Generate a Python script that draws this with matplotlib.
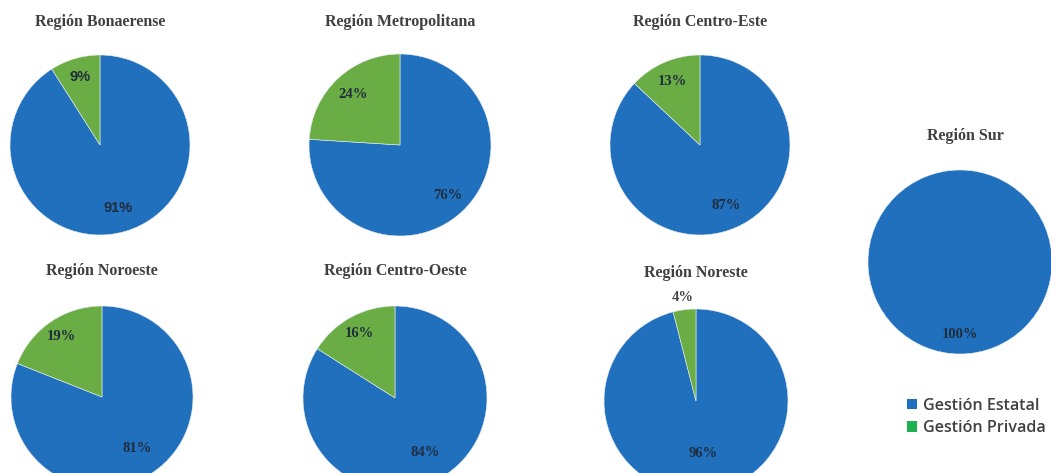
import numpy as np
import matplotlib
matplotlib.use("Agg")
import matplotlib.pyplot as plt
from matplotlib.patches import Patch

# Datos: porcentaje de gestión estatal / privada por región
regiones = ["Región Bonaerense", "Región Metropolitana", "Región Centro-Este",
            "Región Noroeste", "Región Centro-Oeste", "Región Noreste", "Región Sur"]
estatal = [91, 76, 87, 81, 84, 96, 100]
privada = [9, 24, 13, 19, 16, 4, 0]
series = ["Gestión Estatal", "Gestión Privada"]

AZUL = "#2170BE"
VERDE = "#6BAD45"
VERDE_LEYENDA = "#1DB14F"
GRIS = "#404040"

W, H = 1051, 473
# (centro x, centro y desde arriba, radio, x del título, y del título) en píxeles
ubicacion = [(100, 145, 90, 100, 22), (400, 145, 91, 400, 22), (700, 145, 90, 700, 22),
             (102, 397, 91, 102, 271), (395, 398, 92, 395, 271), (696, 401, 92, 696, 273),
             (960, 262, 92, 965, 136)]
# distancia de la etiqueta al centro (fracción del radio): estatal, privada
dist_etiquetas = [(0.73, 0.79), (0.76, 0.76), (0.73, 0.77), (0.68, 0.80),
                  (0.67, 0.80), (0.58, 1.13), (0.79, 0.79)]

fig = plt.figure(figsize=(W / 100, H / 100), dpi=100)
fig.patch.set_facecolor("white")

for i, (nombre, e, p) in enumerate(zip(regiones, estatal, privada)):
    cx, cy, r, tx, ty = ubicacion[i]
    ax = fig.add_axes([(cx - r) / W, 1 - (cy + r) / H, 2 * r / W, 2 * r / H])
    valores = [e, p] if p > 0 else [e]
    colores = [AZUL, VERDE][:len(valores)]
    ax.pie(valores, colors=colores, startangle=90, counterclock=False,
           radius=1, wedgeprops=dict(linewidth=0.4, edgecolor="#e8eef5"))
    ax.set_xlim(-1, 1)
    ax.set_ylim(-1, 1)
    ax.set_aspect("auto")
    ax.axis("off")

    # etiquetas de porcentaje
    inicio = 90.0
    for v, dist in zip(valores, dist_etiquetas[i]):
        medio = np.deg2rad(inicio - v * 3.6 / 2)
        fam = ["Liberation Sans"] if i == 0 else ["Liberation Serif"]
        ax.text(dist * np.cos(medio), dist * np.sin(medio), f"{v}%",
                ha="center", va="center", fontsize=10.5, fontweight="bold",
                family=fam, color="#1F2D3D" if dist < 1 else GRIS, clip_on=False)
        inicio -= v * 3.6

    fig.text(tx / W, 1 - ty / H, nombre, ha="center", va="center",
             fontsize=11.5, fontweight="bold", family="Liberation Serif", color=GRIS)

# leyenda
handles = [Patch(facecolor=AZUL, edgecolor="none"), Patch(facecolor=VERDE_LEYENDA, edgecolor="none")]
fig.legend(handles, series, loc="center left", bbox_to_anchor=(892 / W, 1 - 417 / H),
           frameon=False, handlelength=0.65, handleheight=0.65, handletextpad=0.4,
           labelspacing=0.4, prop=dict(family="Open Sans", size=11.6, weight="semibold"),
           labelcolor=GRIS)

fig.savefig("out.png", dpi=100, facecolor="white")
